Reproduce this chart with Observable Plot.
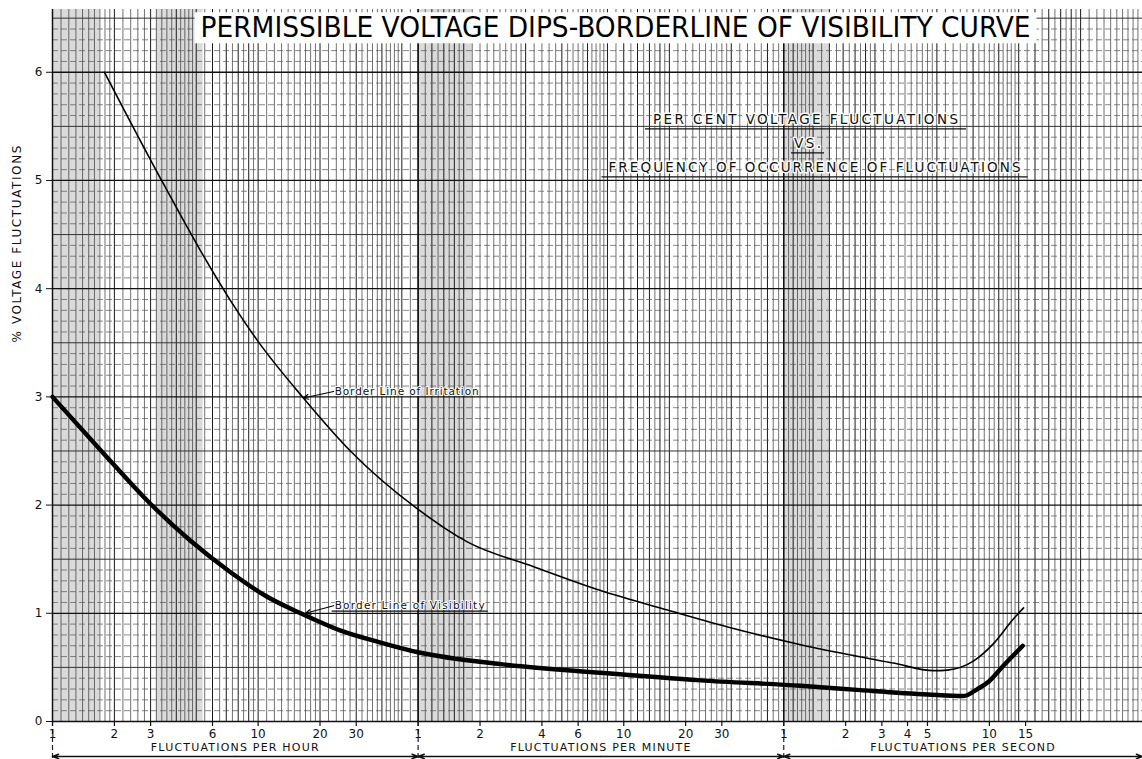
<!DOCTYPE html>
<html>
<head>
<meta charset="utf-8">
<script src="https://cdn.jsdelivr.net/npm/d3@7"></script>
<script src="https://cdn.jsdelivr.net/npm/@observablehq/plot@0.6"></script>
<style>
  html, body { margin: 0; padding: 0; background: #fff; }
  #chart { width: 1142px; height: 759px; overflow: hidden; }
</style>
</head>
<body>
<div id="chart"></div>
<script>
// ---------- data ----------
// x: fluctuations per hour (log axis), y: % voltage fluctuation
const visibilityX = [1, 1.71, 3.0, 4.69, 7.34, 10.9, 16.1, 25.2, 39.4, 60, 151, 463, 1420, 4350, 8500, 18000, 27000, 31500, 35300, 42300, 52300];
const visibilityY = [3.00, 2.51, 2.01, 1.67, 1.38, 1.16, 1.00, 0.84, 0.73, 0.64, 0.53, 0.45, 0.38, 0.33, 0.29, 0.25, 0.235, 0.30, 0.36, 0.52, 0.70];

const irritationX = [1.79, 3.35, 5.25, 7.34, 9.93, 16.6, 28.1, 60, 104, 219, 463, 980, 2050, 4350, 12300, 19300, 22500, 30200, 37700, 47200, 52800];
const irritationY = [6.00, 5.02, 4.35, 3.89, 3.52, 2.99, 2.50, 1.96, 1.66, 1.43, 1.21, 1.03, 0.86, 0.71, 0.54, 0.47, 0.475, 0.56, 0.72, 0.95, 1.05];

// tick values (in fluctuations per hour) and their printed labels
const xTickValues = [1, 2, 3, 6, 10, 20, 30, 60, 120, 240, 360, 600, 1200, 1800, 3600, 7200, 10800, 14400, 18000, 36000, 54000];
const xTickLabels = ["1", "2", "3", "6", "10", "20", "30", "1", "2", "4", "6", "10", "20", "30", "1", "2", "3", "4", "5", "10", "15"];
const yTickValues = [0, 1, 2, 3, 4, 5, 6];

const sectionLabels = ["FLUCTUATIONS PER HOUR", "FLUCTUATIONS PER MINUTE", "FLUCTUATIONS PER SECOND"];
const sectionStart = [1, 60, 3600];
const sectionEnd = [60, 3600, 200000];

const noteLabels = ["Border Line of Irritation", "Border Line of Visibility"];
const noteTextX = [23.3, 23.3];
const noteTextY = [3.05, 1.07];
const noteTipX = [16.6, 17.0];
const noteTipY = [2.99, 1.00];

const titleText = "PERMISSIBLE VOLTAGE DIPS-BORDERLINE OF VISIBILITY CURVE";
const subtitleLines = ["PER CENT VOLTAGE FLUCTUATIONS", "VS.", "FREQUENCY OF OCCURRENCE OF FLUCTUATIONS"];
const yLabel = "% VOLTAGE FLUCTUATIONS";

// darker (densely ruled) bands of the printed graph paper, in fluctuations per hour
const paperBandStart = [1, 3.2, 60, 3600];
const paperBandEnd = [1.7, 5.4, 110, 6000];

// ---------- derived tables ----------
const visibility = visibilityX.map((x, i) => ({x, y: visibilityY[i]}));
const irritation = irritationX.map((x, i) => ({x, y: irritationY[i]}));
const notes = noteLabels.map((label, i) => ({label, x: noteTextX[i], y: noteTextY[i], tx: noteTipX[i], ty: noteTipY[i]}));
const sections = sectionLabels.map((label, i) => ({label, a: sectionStart[i], b: sectionEnd[i], mid: Math.sqrt(sectionStart[i] * sectionEnd[i])}));
const sectionHalves = sections.flatMap(s => [{from: s.mid, to: s.a}, {from: s.mid, to: s.b}]);
const xTicks = xTickValues.map((v, i) => ({v, label: xTickLabels[i]}));
const paperBands = paperBandStart.map((a, i) => ({a, b: paperBandEnd[i]}));

const xMax = 200000, yMax = 6.58;

// log graph-paper rulings
const vFine = [], vMain = [];
for (let e = 0; e <= 5; e++) {
  const p = 10 ** e;
  for (let k = 10; k < 20; k += 1) (k % 10 === 0 ? vMain : vFine).push(k / 10 * p);
  for (let k = 20; k < 50; k += 2) (k % 10 === 0 ? vMain : vFine).push(k / 10 * p);
  for (let k = 50; k < 100; k += 5) (k % 10 === 0 ? vMain : vFine).push(k / 10 * p);
}
const vFineIn = vFine.filter(v => v >= 1 && v <= xMax);
const vMainIn = vMain.filter(v => v >= 1 && v <= xMax);
const hMinor = d3.range(1, 66).filter(i => i % 5 !== 0).map(i => i / 10);
const hHalf = d3.range(5, 66, 10).map(i => i / 10);
const hMajor = yTickValues;

const font = "DejaVu Sans, Liberation Sans, Arial, sans-serif";

const chart = Plot.plot({
  width: 1142,
  height: 759,
  marginLeft: 52,
  marginRight: 0,
  marginTop: 9,
  marginBottom: 38,
  style: {background: "#fff", fontFamily: font, fontSize: "12px", color: "#111"},
  x: {type: "log", domain: [1, xMax], axis: null},
  y: {domain: [0, yMax], axis: null},
  marks: [
    // graph paper
    Plot.rect(paperBands, {x1: "a", x2: "b", y1: 0, y2: yMax, fill: "#dadada"}),
    Plot.ruleX(vFineIn, {stroke: "#333", strokeWidth: 0.7}),
    Plot.ruleX(vMainIn, {stroke: "#1a1a1a", strokeWidth: 1}),
    Plot.ruleY(hMinor, {stroke: "#555", strokeWidth: 0.7, strokeDasharray: "6,3"}),
    Plot.ruleY(hHalf, {stroke: "#333", strokeWidth: 1}),
    Plot.ruleY(hMajor, {stroke: "#111", strokeWidth: 1.3}),
    Plot.ruleX(sectionStart, {stroke: "#111", strokeWidth: 1.5}),
    Plot.ruleX(sectionStart, {y1: 0, y2: 0, insetBottom: -38, stroke: "#222", strokeWidth: 1.2, strokeDasharray: "5,3"}),

    // curves
    Plot.line(irritation, {x: "x", y: "y", stroke: "#000", strokeWidth: 1.6, curve: "monotone-x"}),
    Plot.line(visibility, {x: "x", y: "y", stroke: "#000", strokeWidth: 4.4, curve: "monotone-x"}),

    // annotations
    Plot.arrow(notes, {x1: "x", y1: "y", x2: "tx", y2: "ty", stroke: "#000", strokeWidth: 1.2, headLength: 7, headAngle: 50}),
    Plot.text(notes, {x: "x", y: "y", text: "label", textAnchor: "start", dx: 1, fontSize: 10.5, fill: "#111", stroke: "#fff", strokeWidth: 2}),

    // x axis: ticks and labels
    Plot.ruleX(xTickValues, {y1: 0, y2: 0, insetBottom: -5, stroke: "#111", strokeWidth: 1.2}),
    Plot.text(xTicks, {x: "v", text: "label", frameAnchor: "bottom", dy: 13, lineAnchor: "middle", fontSize: 12, fill: "#111"}),

    // y axis
    Plot.axisY(yTickValues, {tickSize: 6, tickPadding: 4, fontSize: 12, label: null, stroke: "#111", tickFormat: d => String(d)}),
    Plot.text([yLabel], {frameAnchor: "left", rotate: -90, dx: -35, dy: -23, fontSize: 12, fill: "#111"}),

    // section labels and brackets below the axis
    Plot.text(sections, {x: "mid", frameAnchor: "bottom", text: "label", dy: 26, fontSize: 11, fill: "#111", lineAnchor: "middle"}),
    Plot.arrow(sectionHalves, {x1: "from", x2: "to", y1: () => 0, y2: () => 0, dy: 35, stroke: "#111", strokeWidth: 1.4, headLength: 7, headAngle: 40}),

    // titles
    Plot.text([titleText], {frameAnchor: "top", dx: 18, dy: 18.5, lineAnchor: "middle", fontSize: 29, fill: "#000", fontFamily: "Liberation Sans Narrow, DejaVu Sans Condensed, Liberation Sans, sans-serif"}),
    Plot.text([subtitleLines[0]], {frameAnchor: "top-left", dx: 753, dy: 110, textAnchor: "middle", lineAnchor: "middle", fontSize: 13.5, fill: "#111", stroke: "#fff", strokeWidth: 3}),
    Plot.text([subtitleLines[1]], {frameAnchor: "top-left", dx: 755, dy: 134, textAnchor: "middle", lineAnchor: "middle", fontSize: 13.5, fill: "#111", stroke: "#fff", strokeWidth: 3}),
    Plot.text([subtitleLines[2]], {frameAnchor: "top-left", dx: 762, dy: 158, textAnchor: "middle", lineAnchor: "middle", fontSize: 13.5, fill: "#111", stroke: "#fff", strokeWidth: 3})
  ]
});

document.getElementById("chart").appendChild(chart);
const svg = chart.tagName.toLowerCase() === "svg" ? chart : chart.querySelector("svg");
const NS = "http://www.w3.org/2000/svg";

function textsOf(str) {
  return Array.from(svg.querySelectorAll("text")).filter(t => t.textContent === str);
}
function fitWidth(t, w, adjust) {
  t.setAttribute("textLength", w);
  t.setAttribute("lengthAdjust", adjust);
}
function underline(t, ext, off) {
  const b = t.getBBox();
  const l = document.createElementNS(NS, "line");
  l.setAttribute("x1", b.x - ext);
  l.setAttribute("x2", b.x + b.width + ext);
  l.setAttribute("y1", b.y + b.height + off);
  l.setAttribute("y2", b.y + b.height + off);
  l.setAttribute("stroke", "#111");
  l.setAttribute("stroke-width", "1.3");
  const tr = t.getAttribute("transform");
  if (tr) l.setAttribute("transform", tr);
  t.parentNode.appendChild(l);
}

textsOf(titleText).forEach(t => {
  fitWidth(t, 830, "spacingAndGlyphs");
  const b = t.getBBox();
  const r = document.createElementNS(NS, "rect");
  r.setAttribute("x", b.x - 6);
  r.setAttribute("y", b.y + 2);
  r.setAttribute("width", b.width + 12);
  r.setAttribute("height", b.height - 3);
  r.setAttribute("fill", "#fff");
  const tr = t.getAttribute("transform");
  if (tr) r.setAttribute("transform", tr);
  t.parentNode.insertBefore(r, t);
});
textsOf(subtitleLines[0]).forEach(t => { fitWidth(t, 305, "spacing"); underline(t, 8, 2); });
textsOf(subtitleLines[1]).forEach(t => { fitWidth(t, 27, "spacing"); underline(t, 3, 2); });
textsOf(subtitleLines[2]).forEach(t => { fitWidth(t, 412, "spacing"); underline(t, 7, 2); });
sectionLabels.forEach(s => textsOf(s).forEach(t => t.setAttribute("letter-spacing", "1.2")));
textsOf(yLabel).forEach(t => t.setAttribute("letter-spacing", "1.6"));
textsOf(noteLabels[0]).forEach(t => fitWidth(t, 144, "spacing"));
textsOf(noteLabels[1]).forEach(t => { fitWidth(t, 150, "spacing"); underline(t, 3, 0); });
</script>
</body>
</html>
